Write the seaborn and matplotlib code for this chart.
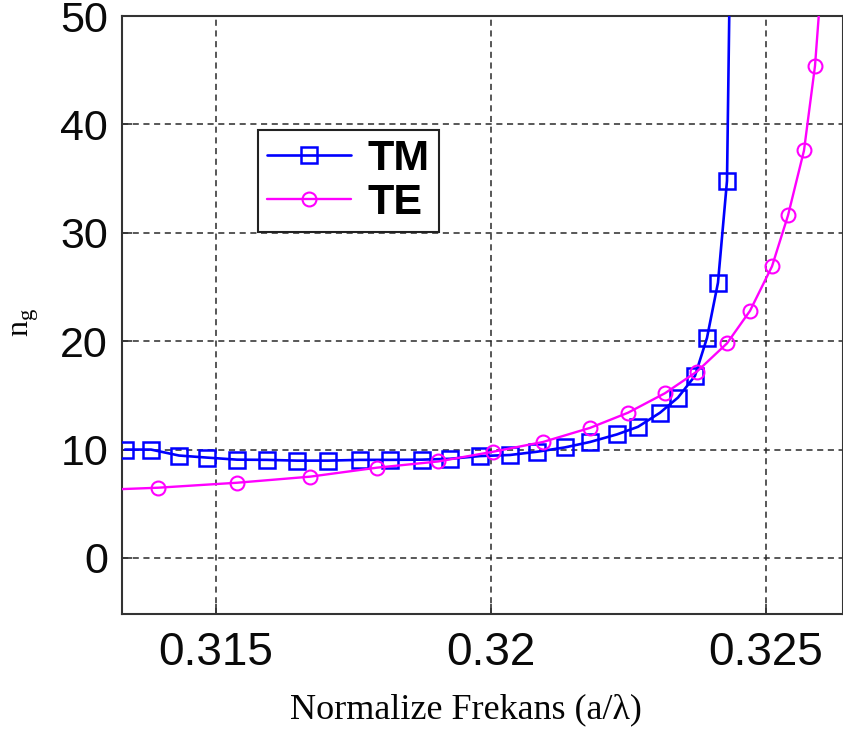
import matplotlib
matplotlib.use("Agg")
import matplotlib.pyplot as plt
import seaborn as sns
import numpy as np
import pandas as pd

# ---- data ----
tm_freq = [0.313345, 0.313818, 0.314327, 0.314836, 0.315382, 0.315927, 0.316473,
           0.317036, 0.317618, 0.318164, 0.318745, 0.319255, 0.319800, 0.320345,
           0.320836, 0.321345, 0.321800, 0.322291, 0.322673, 0.323073, 0.323400,
           0.323709, 0.323927, 0.324127, 0.324291, 0.324364]
tm_ng = [10.0, 10.0, 9.45, 9.26, 9.07, 9.05, 8.98, 8.98, 9.05, 9.05, 9.07, 9.15,
         9.4, 9.5, 9.8, 10.2, 10.7, 11.4, 12.1, 13.4, 14.8, 16.8, 20.3, 25.4,
         34.8, 62.0]

te_freq = [0.312500, 0.313945, 0.315382, 0.316709, 0.317927, 0.319036, 0.320036,
           0.320945, 0.321800, 0.322491, 0.323164, 0.323745, 0.324291, 0.324709,
           0.325109, 0.325400, 0.325691, 0.325891, 0.326018]
te_ng = [6.2, 6.48, 6.94, 7.5, 8.33, 8.9, 9.8, 10.7, 12.0, 13.4, 15.2, 17.2, 19.8,
         22.8, 26.9, 31.6, 37.6, 45.4, 54.0]

series_labels = ["TM", "TE"]
x_ticks = [0.315, 0.32, 0.325]
x_ticklabels = ["0.315", "0.32", "0.325"]
y_ticks = [0, 10, 20, 30, 40, 50]

sns.set_style("ticks")
plt.rcParams["font.family"] = ["Liberation Sans", "DejaVu Sans"]
plt.rcParams["text.color"] = "#050505"

W, H = 843, 733
fig = plt.figure(figsize=(W / 100, H / 100), dpi=100)
ax = fig.add_axes([122 / W, (H - 614) / H, (W - 122) / W, (614 - 16) / H])

df_tm = pd.DataFrame({"f": tm_freq, "ng": tm_ng})
df_te = pd.DataFrame({"f": te_freq, "ng": te_ng})

sns.lineplot(data=df_tm, x="f", y="ng", ax=ax, estimator=None, sort=False,
             color="#0000ff", lw=1.9, marker="s", markersize=11,
             markerfacecolor="none", markeredgecolor="#0000ff",
             markeredgewidth=1.8, label=series_labels[0], zorder=3)
sns.lineplot(data=df_te, x="f", y="ng", ax=ax, estimator=None, sort=False,
             color="#ff00ff", lw=1.7, marker="o", markersize=10,
             markerfacecolor="none", markeredgecolor="#ff00ff",
             markeredgewidth=1.5, label=series_labels[1], zorder=3)

ax.set_xlim(0.313291, 0.326400)
ax.set_ylim(-5.17, 50)
ax.set_xticks(x_ticks)
ax.set_xticklabels(x_ticklabels)
ax.set_yticks(y_ticks)

ax.grid(True, color="#2a2a2a", linestyle=(0, (4, 3)), linewidth=1.1, zorder=0)
ax.set_axisbelow(True)

for s in ax.spines.values():
    s.set_linewidth(1.5)
    s.set_color("#333333")
    s.set_visible(True)

ax.tick_params(axis="both", direction="in", length=7, width=1.2, color="#333333")
ax.tick_params(axis="y", labelsize=31, pad=10)
ax.tick_params(axis="x", labelsize=33, pad=12)
for t in ax.get_xticklabels() + ax.get_yticklabels():
    t.set_color("#0a0a0a")

ax.set_xlabel("Normalize Frekans (a/λ)", family=["Liberation Serif", "DejaVu Serif"],
              fontsize=26, color="#050505")
ax.xaxis.set_label_coords(0.477, -0.133)
ax.set_ylabel(r"n$_{\mathregular{g}}$", family=["Liberation Serif", "DejaVu Serif"],
              fontsize=23, color="#050505")
ax.yaxis.set_label_coords(-0.112, 0.487)

leg = ax.legend(loc="upper left", bbox_to_anchor=(136 / 721, (614 - 130) / 598),
                borderaxespad=0, frameon=True, fancybox=False, framealpha=1,
                edgecolor="#222222", prop={"family": "Liberation Sans",
                                           "weight": "bold", "size": 31},
                handlelength=1.95, handletextpad=0.4, borderpad=0.2,
                labelspacing=0.1)
leg.get_frame().set_linewidth(1.5)
for t in leg.get_texts():
    t.set_color("#000000")

fig.savefig("out.png", dpi=100)
